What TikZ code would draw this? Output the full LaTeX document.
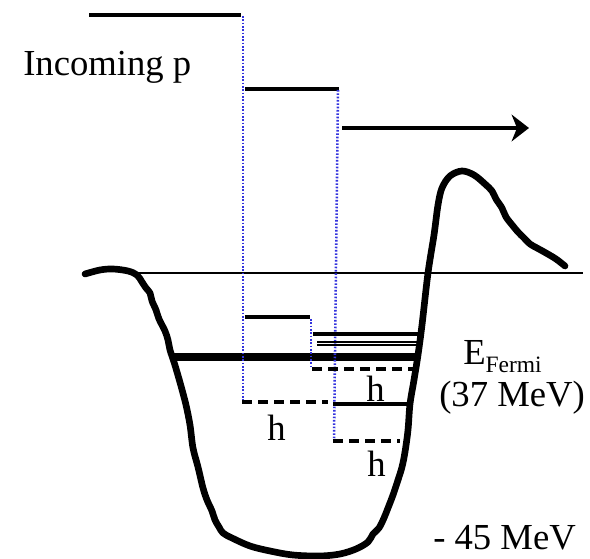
\documentclass[tikz,border=0pt]{standalone}
\usepackage{fontspec}
\setmainfont{Liberation Serif}
\usepackage{tikz}
\usetikzlibrary{calc,arrows.meta,positioning}
\definecolor{hopBlue}{RGB}{51,51,221}
\definecolor{wellBlack}{RGB}{0,0,0}

\begin{document}
\begin{tikzpicture}[x=0.75pt,y=-0.75pt,
  level/.style={wellBlack, line width=2.9pt},
  hole/.style={wellBlack, line width=2.7pt, dash pattern=on 7.5pt off 4.5pt},
  hop/.style={hopBlue, line width=1.9pt, dash pattern=on 1.2pt off 1.3pt},
  lbl/.style={inner sep=0pt, font=\fontsize{27.5}{30}\selectfont}]
\useasboundingbox (0,0) rectangle (590,559);
% potential well
\draw[wellBlack, line width=5pt, line cap=round, line join=round]
  plot[smooth, tension=0.55] coordinates {(85,274) (100,270) (113,269) (128,271) (137,275)
  (142,282) (146,288) (150,293) (152,301) (156,310) (159,319) (165,331) (168,340)
  (170,350) (174,362) (177,372) (181,386) (186,405) (190,425) (193,448) (198,467)
  (203,488) (207,500) (212,511) (215,520) (219,527) (223,533) (232,538) (250,546)
  (270,551) (293,555) (320,556) (340,554) (356,549) (368,542) (373,534) (379,528)
  (384,518) (388,508) (393,495) (398,480) (402,467) (405,452) (408,430) (410,404)
  (414,380) (418,355) (422,325) (428,273) (434,235) (438,205) (442,188) (450,176)
  (462,171) (474,175) (485,184) (492,191) (496,199) (502,208) (506,217) (513,226)
  (518,232) (524,238) (530,244) (537,248) (546,253) (556,259) (565,266)};
% zero line and Fermi level
\draw[wellBlack, line width=2.1pt] (135,273) -- (583,273);
\draw[wellBlack, line width=5.5pt] (170,357) -- (417,357);
% incoming proton and its steps
\draw[level] (89,15) -- (241,15);
\draw[hop] (243,16) -- (243,401);
\draw[level] (245,89) -- (339,89);
\draw[hop] (338,90) -- (334,440);
\coordinate (outStart) at (342,128);
\coordinate (outEnd) at (529,128);
\draw[level, -{Stealth[length=13pt,width=20pt,inset=4pt]}] (outStart) -- (outEnd);
% states above the Fermi level
\draw[level] (245,317) -- (310,317);
\draw[hop] (311,319) -- (311,368);
\draw[wellBlack, line width=3pt] (313,334) -- (418,334);
\draw[wellBlack, line width=1pt] (317,342) -- (418,342);
\draw[wellBlack, line width=1pt] (317,345) -- (418,345);
% holes
\draw[hole] (312,369) -- (416,369);
\draw[hole] (242,402) -- (328,402);
\draw[level] (333,404) -- (410,404);
\draw[hole] (333,441) -- (400,441);
% labels
\node[lbl, anchor=base west] (incoming) at (23,76) {Incoming p};
\node[lbl, anchor=base west] (hA) at (366,402) {h};
\node[lbl, anchor=base west] (hB) at (267,441) {h};
\node[lbl, anchor=base west] (hC) at (367,477) {h};
\node[lbl, anchor=base west] (fermi) at (463,365)
  {E\raisebox{-6pt}{\fontsize{17.6}{18}\selectfont Fermi}};
\node[lbl, anchor=base west] (fermiVal) at (439,407) {(37 MeV)};
\node[lbl, anchor=base west] (depth) at (433,550) {- 45 MeV};
\end{tikzpicture}
\end{document}
